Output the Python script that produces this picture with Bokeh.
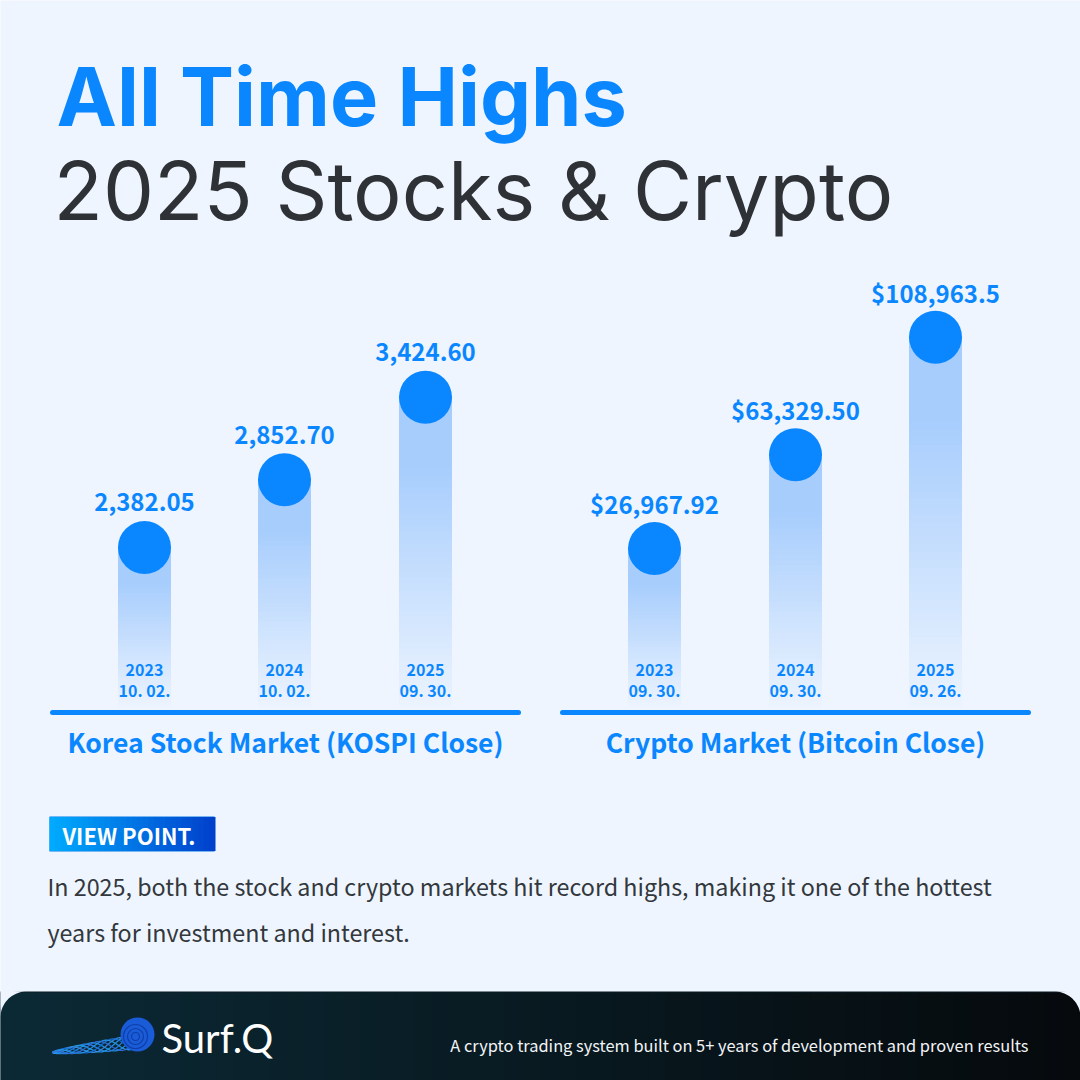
import numpy as np
from bokeh.plotting import figure
from bokeh.models import Range1d
from bokeh.core.properties import value
from bokeh.embed import file_html
from bokeh.resources import INLINE

# ---------------- data ----------------
kospi_dates_year = ["2023", "2024", "2025"]
kospi_dates_day = ["10. 02.", "10. 02.", "09. 30."]
kospi_values = [2382.05, 2852.70, 3424.60]
kospi_labels = ["2,382.05", "2,852.70", "3,424.60"]

btc_dates_year = ["2023", "2024", "2025"]
btc_dates_day = ["09. 30.", "09. 30.", "09. 26."]
btc_values = [26967.92, 63329.50, 108963.5]
btc_labels = ["$26,967.92", "$63,329.50", "$108,963.5"]

panel_titles = ["Korea Stock Market (KOSPI Close)", "Crypto Market (Bitcoin Close)"]

# ---------------- styles ----------------
BG = "#eef5fe"
BLUE = "#0a87ff"
BAR_TOP = (167, 205, 253)
BG_RGB = (238, 245, 254)
CJK = value("Noto Sans CJK KR")

W = H = 1080
p = figure(width=W, height=H, x_range=Range1d(0, W), y_range=Range1d(H, 0),
           output_backend="svg", toolbar_location=None, min_border=0,
           x_axis_location=None, y_axis_location=None)
p.grid.visible = False
p.outline_line_color = None
p.background_fill_color = BG
p.border_fill_color = BG


# value scales for each panel (pixel-from-top = a - k * value)
def make_range(a, k):
    return Range1d((a - H) / k, a / k)


p.extra_y_ranges = {"kospi": make_range(890.0, 0.1440),
                    "btc": make_range(617.6, 0.002578)}
BASE_PIX = 706


def pix_to_val(name, py):
    r = p.extra_y_ranges[name]
    return r.start + (H - py) / H * (r.end - r.start)


def mix(t):
    c = [int(round(BG_RGB[i] + (BAR_TOP[i] - BG_RGB[i]) * t)) for i in range(3)]
    return "#%02x%02x%02x" % tuple(c)


def draw_panel(name, xs, vals, labels, years, days, title, x0, x1):
    base = pix_to_val(name, BASE_PIX)
    r = p.extra_y_ranges[name]
    one_px = (r.end - r.start) / H
    N = 48
    bw = 53
    for x, v in zip(xs, vals):
        edges = np.linspace(base, v, N + 1)
        tmid = (np.arange(N) + 0.5) / N
        cols = [mix(min(1.0, 0.03 + 1.25 * t)) for t in tmid]
        p.quad(left=[x - bw / 2] * N, right=[x + bw / 2] * N,
               bottom=edges[:-1], top=edges[1:] + 1.5 * one_px, fill_color=cols,
               line_color=None, y_range_name=name)
    p.scatter(xs, vals, size=53, marker="circle", fill_color=BLUE,
              line_color=None, y_range_name=name)
    p.text(xs, vals, text=labels, y_offset=-45, text_align="center",
           text_baseline="middle", text_color=BLUE, text_font=CJK,
           text_font_style="bold", text_font_size="24px", y_range_name=name)
    p.text(xs, [669] * 3, text=years, text_align="center", text_baseline="middle",
           text_color=BLUE, text_font=CJK, text_font_style="bold",
           text_font_size="16px")
    p.text(xs, [689] * 3, text=days, text_align="center", text_baseline="middle",
           text_color=BLUE, text_font=CJK, text_font_style="bold",
           text_font_size="16px")
    p.line([x0, x1], [712, 712], line_width=5, line_color=BLUE, line_cap="round")
    p.text([(x0 + x1) / 2], [741], text=[title], text_align="center",
           text_baseline="middle", text_color=BLUE, text_font=CJK,
           text_font_style="bold", text_font_size="26.5px")


draw_panel("kospi", [144, 284, 425], kospi_values, kospi_labels,
           kospi_dates_year, kospi_dates_day, panel_titles[0], 52, 518)
draw_panel("btc", [654, 795, 935], btc_values, btc_labels,
           btc_dates_year, btc_dates_day, panel_titles[1], 562, 1028)

# ---------------- title ----------------
p.text([56], [96], text=["All Time Highs"], text_align="left",
       text_baseline="middle", text_color=BLUE, text_font=value("Inter"),
       text_font_style="bold", text_font_size="81px")
p.text([53], [190], text=["2025 Stocks & Crypto"], text_align="left",
       text_baseline="middle", text_color="#2e3135", text_font=value("Inter"),
       text_font_size="81px")

# ---------------- view point ----------------
nvp = 30
vx = np.linspace(49, 214, nvp + 1)
c0, c1 = np.array([0, 172, 255]), np.array([0, 64, 204])
vcols = ["#%02x%02x%02x" % tuple(int(v) for v in (c0 + (c1 - c0) * t))
         for t in (np.arange(nvp) + 0.5) / nvp]
p.quad(left=[49], right=[214], bottom=[851], top=[816], fill_color="#0278e6",
       line_color=None)
p.quad(left=vx[:-1], right=vx[1:] + 1, bottom=[850.5] * nvp, top=[816.5] * nvp,
       fill_color=vcols, line_color=None)
p.text([62], [834], text=["VIEW POINT."], text_baseline="middle",
       text_color="white", text_font=CJK, text_font_style="bold",
       text_font_size="22px")
p.text([47, 47], [885, 931],
       text=["In 2025, both the stock and crypto markets hit record highs, making it one of the hottest",
             "years for investment and interest."],
       text_baseline="middle", text_color="#33383d", text_font=CJK,
       text_font_size="23.3px")

# ---------------- footer ----------------
nf = 60
fx = np.linspace(0, W, nf + 1)
f0, f1 = np.array([12, 42, 54]), np.array([6, 10, 13])
fcols = ["#%02x%02x%02x" % tuple(int(v) for v in (f0 + (f1 - f0) * t))
         for t in (np.arange(nf) + 0.5) / nf]
p.quad(left=[-2], right=[W + 2], bottom=[H + 2], top=[991], fill_color="#0a1c24",
       line_color=None)
p.quad(left=fx[:-1], right=fx[1:] + 1.5, bottom=[H + 2] * nf, top=[992] * nf,
       fill_color=fcols, line_color=None)
R = 26
th = np.linspace(np.pi / 2, np.pi, 20)
p.patch(list(R + R * np.cos(th)) + [-1], list(991 + R - R * np.sin(th)) + [990],
        fill_color=BG, line_color=None)
th2 = np.linspace(0, np.pi / 2, 20)
p.patch(list(W - R + R * np.cos(th2)) + [W + 1], list(991 + R - R * np.sin(th2)) + [990],
        fill_color=BG, line_color=None)

# logo (decorative wave)
xs_w, ys_w = [], []
xw = np.linspace(52, 132, 80)
env = (xw - 52) / 80
wave_cols = ["#1c8fe6", "#2a7fe0", "#1f9be8", "#3a8ae4", "#1570d8", "#2596ea", "#3070dc"]
for i in range(7):
    ph = i * 0.9
    xs_w.append(list(xw))
    ys_w.append(list(1052 - env * 10 + np.sqrt(env) * 7 * np.sin((xw - 52) / 8 + ph)))
p.multi_line(xs_w, ys_w, line_color=wave_cols, line_width=1.3, line_alpha=0.95)
p.scatter([137], [1034], size=34, marker="circle", fill_color="#1a5bd8",
          line_color=None)
for rr in [4, 8, 12]:
    p.circle([135], [1036], radius=rr, fill_color=None, line_color="#0e3fa8",
             line_width=1.2)
p.text([161], [1037], text=["Surf.Q"], text_baseline="middle",
       text_color="white", text_font=value("Lato"), text_font_size="40px")
p.text([1028], [1044], text=["A crypto trading system built on 5+ years of development and proven results"],
       text_align="right", text_baseline="middle", text_color="#f2f4f6",
       text_font=CJK, text_font_size="16.4px")

open("out.html", "w").write(file_html(p, INLINE))
